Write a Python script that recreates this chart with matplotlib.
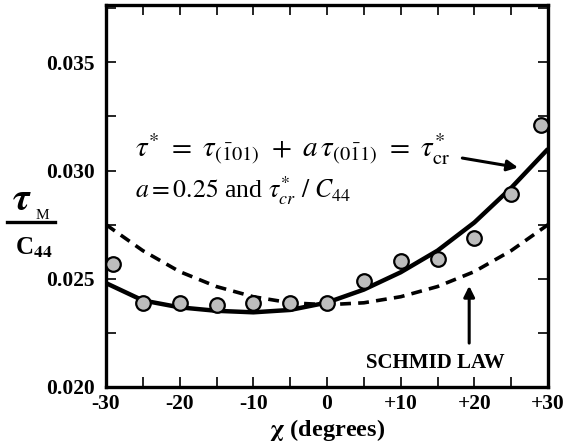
import numpy as np
import matplotlib
matplotlib.use("Agg")
import matplotlib.pyplot as plt
from matplotlib.ticker import MultipleLocator, FixedLocator

plt.rcParams['font.family'] = 'Liberation Serif'
plt.rcParams['mathtext.fontset'] = 'stix'

# measured points (grey circles)
chi_pts = [-29, -25, -20, -15, -10, -5, 0, 5, 10, 15, 20, 25, 29]
tau_pts = [0.0257, 0.0239, 0.0239, 0.02378, 0.0239, 0.0239, 0.0239,
           0.0249, 0.0258, 0.0259, 0.0269, 0.0289, 0.0321]

# fitted curve, tau* = tau_cr*
chi_fit = [-30, -25, -20, -15, -10, -5, 0, 5, 10, 15, 20, 25, 30]
tau_fit = [0.0248, 0.0240, 0.02368, 0.02352, 0.02345, 0.02356, 0.0239,
           0.0245, 0.0253, 0.0263, 0.0276, 0.0292, 0.0310]

# Schmid law (dashed)
chi_schmid = [-30, -25, -20, -15, -10, -5, 0, 5, 10, 15, 20, 25, 30]
tau_schmid = [0.0275, 0.0263, 0.02533, 0.02464, 0.02417, 0.02389, 0.0238,
              0.02389, 0.02417, 0.02464, 0.02533, 0.0263, 0.0275]

xticks = [-30, -20, -10, 0, 10, 20, 30]
xticklabels = ['-30', '-20', '-10', '0', '+10', '+20', '+30']
yticks = [0.020, 0.025, 0.030, 0.035]

fig = plt.figure(figsize=(5.69, 4.48), dpi=100)
ax = fig.add_axes([0.1863, 0.1362, 0.7768, 0.8526])

ax.plot(chi_schmid, tau_schmid, color='black', lw=2.6, ls=(0, (3, 2)))
ax.plot(chi_fit, tau_fit, color='black', lw=3.2, solid_capstyle='butt')
ax.plot(chi_pts, tau_pts, 'o', ms=10.5, mfc='#bdbdbd', mec='black', mew=1.6,
        clip_on=False, zorder=5)

ax.set_xlim(-30, 30)
ax.set_ylim(0.0200, 0.03765)
ax.xaxis.set_major_locator(FixedLocator(xticks))
ax.set_xticklabels(xticklabels)
ax.xaxis.set_minor_locator(MultipleLocator(5))
ax.yaxis.set_major_locator(FixedLocator(yticks))
ax.set_yticklabels(['0.020', '0.025', '0.030', '0.035'])
ax.yaxis.set_minor_locator(MultipleLocator(0.0025))
ax.tick_params(which='both', direction='in', top=True, right=True,
               width=1.2, labelsize=15.5, length=7)
ax.tick_params(axis='x', pad=5)
ax.tick_params(axis='y', pad=8)
for lab in ax.get_xticklabels() + ax.get_yticklabels():
    lab.set_fontweight('bold')
for s in ax.spines.values():
    s.set_linewidth(2.4)

ax.set_xlabel(r'$\mathbf{\chi}$ (degrees)', fontsize=17.5, fontweight='bold',
              labelpad=2)

# y label as a fraction
fig.text(0.039, 0.531, r'$\boldsymbol{\tau}$', fontsize=28, ha='center', va='baseline')
fig.text(0.062, 0.511, 'M', fontsize=11, ha='left', va='baseline')
fig.add_artist(plt.Line2D([0.012, 0.097], [0.504, 0.504], color='black', lw=2.4))
fig.text(0.06, 0.431, r'C$_{\mathbf{44}}$', fontsize=18, fontweight='bold',
         ha='center', va='baseline')

ax.text(-26, 0.0306,
        r'$\tau^{*}\ =\ \tau_{(\bar{1}01)}\ +\ a\,\tau_{(0\bar{1}1)}\ =\ \tau^{*}_{\mathrm{cr}}$',
        fontsize=21, ha='left', va='baseline')
ax.text(-26, 0.02875, r'$a = 0.25$ and $\tau^{*}_{cr}\ /\ C_{44}$',
        fontsize=18.5, ha='left', va='baseline')

ax.annotate('', xy=(26.3, 0.03012), xytext=(18.0, 0.0306),
            arrowprops=dict(arrowstyle='-|>', color='black', lw=2.2,
                            mutation_scale=16))
ax.annotate('', xy=(19.3, 0.0248), xytext=(19.3, 0.0219),
            arrowprops=dict(arrowstyle='-|>', color='black', lw=2.2,
                            mutation_scale=16))
ax.text(14.7, 0.0209, 'SCHMID LAW', fontsize=15, fontweight='bold',
        ha='center', va='baseline')

fig.savefig('out.png', dpi=100)
